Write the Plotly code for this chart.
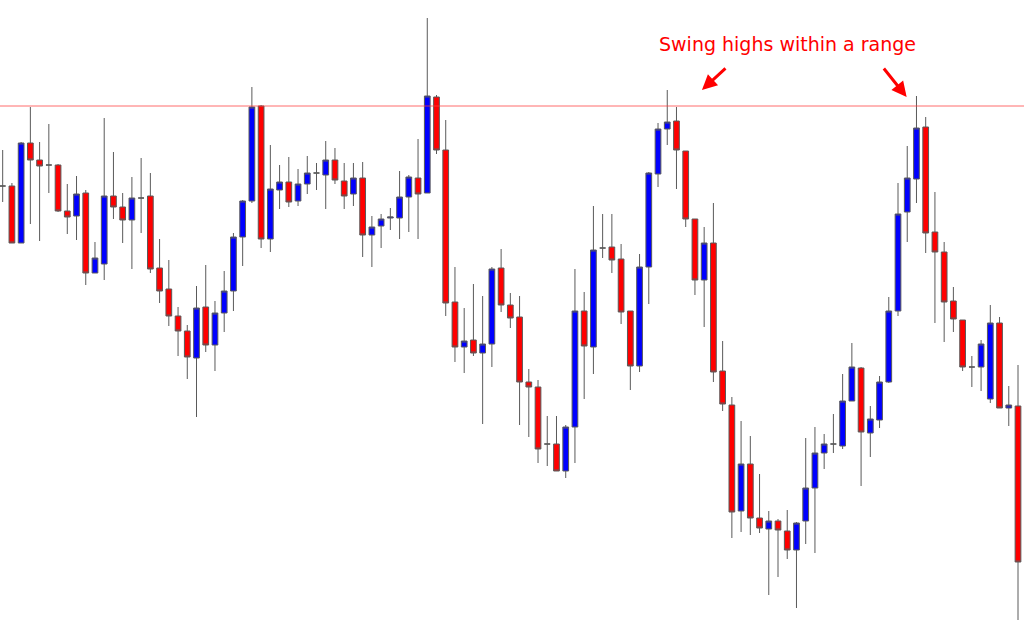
import plotly.graph_objects as go

# Candle index (time step)
idx = list(range(111))

opens = [439, 439, 382, 482, 465, 460, 460, 414, 409, 432,
         352, 361, 429, 418, 405, 427, 429, 357, 336, 309,
         294, 267, 318, 280, 312, 334, 388, 424, 519, 386,
         435, 443, 424, 441, 452, 450, 465, 444, 431, 447,
         390, 399, 407, 407, 428, 447, 432, 528, 475, 323,
         278, 285, 272, 281, 357, 320, 308, 243, 238, 181,
         181, 154, 198, 314, 278, 377, 378, 366, 314, 259,
         358, 451, 496, 504, 474, 406, 345, 382, 254, 220,
         114, 161, 107, 96, 104, 94, 75, 104, 137, 172,
         181, 179, 224, 257, 192, 205, 243, 314, 413, 446,
         498, 393, 373, 324, 305, 258, 258, 226, 302, 217,
         219]
highs = [475, 442, 483, 518, 483, 501, 461, 441, 449, 435,
         383, 507, 473, 432, 448, 467, 452, 386, 365, 318,
         300, 339, 360, 324, 354, 392, 425, 538, 520, 480,
         460, 468, 456, 469, 462, 484, 477, 462, 462, 463,
         409, 411, 417, 454, 450, 486, 607, 530, 505, 358,
         317, 341, 329, 358, 376, 332, 329, 256, 245, 209,
         209, 200, 356, 333, 419, 411, 411, 381, 314, 371,
         453, 502, 535, 518, 474, 406, 398, 422, 284, 228,
         204, 189, 151, 114, 106, 115, 103, 187, 198, 191,
         211, 251, 282, 258, 219, 249, 328, 442, 479, 529,
         508, 433, 383, 338, 305, 269, 285, 320, 308, 239,
         260]
lows = [423, 382, 382, 401, 384, 432, 413, 391, 385, 340,
        352, 345, 406, 382, 356, 392, 352, 322, 299, 269,
        246, 208, 273, 254, 293, 314, 359, 422, 377, 373,
        416, 418, 419, 431, 435, 416, 441, 416, 419, 368,
        358, 377, 395, 386, 393, 386, 432, 471, 309, 263,
        252, 269, 201, 258, 313, 297, 200, 188, 162, 159,
        154, 147, 162, 226, 251, 367, 352, 301, 235, 253,
        321, 438, 480, 436, 398, 330, 298, 243, 214, 87,
        93, 90, 92, 30, 48, 66, 17, 81, 72, 156,
        172, 176, 224, 139, 168, 197, 242, 309, 383, 422,
        372, 302, 283, 293, 254, 238, 234, 222, 217, 199,
        5]
closes = [439, 382, 482, 465, 459, 460, 414, 408, 431, 352,
          367, 429, 418, 405, 427, 427, 356, 334, 309, 294,
          268, 317, 280, 312, 334, 388, 424, 518, 386, 436,
          443, 423, 441, 452, 452, 465, 445, 429, 447, 390,
          398, 406, 408, 428, 448, 431, 529, 475, 322, 278,
          284, 272, 281, 356, 320, 307, 243, 238, 176, 181,
          154, 198, 314, 279, 375, 377, 365, 313, 259, 358,
          452, 496, 503, 475, 406, 345, 382, 253, 221, 113,
          161, 107, 97, 104, 95, 75, 102, 137, 172, 181,
          181, 224, 258, 193, 206, 243, 314, 411, 447, 497,
          392, 373, 323, 306, 258, 258, 281, 302, 217, 220,
          63]

range_level = 519
annotation_text = "Swing highs within a range"

fig = go.Figure(go.Candlestick(
    x=idx, open=opens, high=highs, low=lows, close=closes,
    increasing=dict(fillcolor="#0000ff", line=dict(color="#5a5a5a", width=1)),
    decreasing=dict(fillcolor="#ff0000", line=dict(color="#5a5a5a", width=1)),
    whiskerwidth=0,
    showlegend=False,
    hoverinfo="skip",
))

fig.add_shape(type="line", xref="paper", x0=0, x1=1, yref="y",
              y0=range_level, y1=range_level,
              line=dict(color="rgba(255,60,60,0.75)", width=1))

fig.add_annotation(xref="paper", yref="paper", x=0.7695, y=0.9296,
                   xanchor="center", yanchor="middle",
                   text=annotation_text, showarrow=False,
                   font=dict(family="DejaVu Sans", size=19, color="#ff0000"))
fig.add_annotation(xref="paper", yref="paper", x=0.6855, y=0.856, text="",
                   showarrow=True, ax=25, ay=-23, arrowhead=2, arrowsize=1,
                   arrowwidth=3, arrowcolor="#ff0000")
fig.add_annotation(xref="paper", yref="paper", x=0.8854, y=0.8448, text="",
                   showarrow=True, ax=-24, ay=-30, arrowhead=2, arrowsize=1,
                   arrowwidth=3, arrowcolor="#ff0000")

fig.update_layout(
    width=1024, height=625,
    margin=dict(l=0, r=0, t=0, b=0),
    paper_bgcolor="white", plot_bgcolor="white",
    boxgap=0.38, boxgroupgap=0,
    xaxis=dict(range=[-0.29, 110.65], visible=False, rangeslider=dict(visible=False),
               showgrid=False, zeroline=False),
    yaxis=dict(range=[0, 625], visible=False, showgrid=False, zeroline=False),
)

fig.write_html(
    "out.html",
    config={"displayModeBar": False},
    post_script="document.body.style.margin='0';document.body.style.overflow='hidden';",
)
